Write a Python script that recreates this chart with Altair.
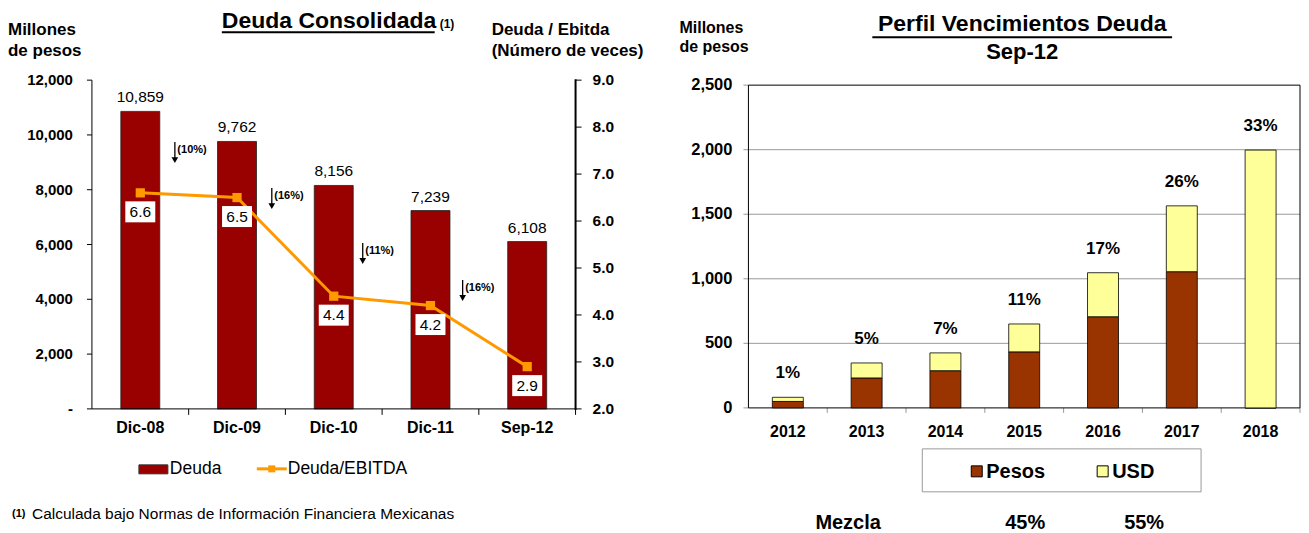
import altair as alt
import pandas as pd

# ---------------- data ----------------
periodos = ['Dic-08', 'Dic-09', 'Dic-10', 'Dic-11', 'Sep-12']
deuda = [10859, 9762, 8156, 7239, 6108]
deuda_ebitda = [6.6, 6.5, 4.4, 4.2, 2.9]
variaciones = ['(10%)', '(16%)', '(11%)', '(16%)']
deuda_ticks = [0, 2000, 4000, 6000, 8000, 10000, 12000]
veces_ticks = [2, 3, 4, 5, 6, 7, 8, 9]

anios = ['2012', '2013', '2014', '2015', '2016', '2017', '2018']
pesos = [50, 232, 288, 434, 706, 1055, 0]
usd = [32, 116, 138, 216, 341, 510, 1997]
porcentajes = ['1%', '5%', '7%', '11%', '17%', '26%', '33%']
venc_ticks = [0, 500, 1000, 1500, 2000, 2500]
mezcla = ['45%', '55%']

# ---------------- layout helpers ----------------
FONT = 'Liberation Sans'
W, H = 1293, 517
M = 8


def px(v):
    return v - M


one = pd.DataFrame({'k': [0]})


def txt(text, x, y, size, bold=True, align='left', color='black'):
    return alt.Chart(one).mark_text(
        text=text, align=align, baseline='middle', font=FONT, fontSize=size,
        fontWeight='bold' if bold else 'normal', color=color
    ).encode(x=alt.value(px(x)), y=alt.value(px(y)))


def rule(x1, y1, x2, y2, color='black', w=1.0):
    return alt.Chart(one).mark_rule(color=color, strokeWidth=w).encode(
        x=alt.value(px(x1)), y=alt.value(px(y1)),
        x2=alt.value(px(x2)), y2=alt.value(px(y2)))


def box(x1, y1, x2, y2, fill, stroke='black', w=1.0):
    return alt.Chart(one).mark_rect(fill=fill, stroke=stroke, strokeWidth=w).encode(
        x=alt.value(px(x1)), y=alt.value(px(y1)),
        x2=alt.value(px(x2)), y2=alt.value(px(y2)))


def sym(shape, x, y, size, color):
    return alt.Chart(one).mark_point(shape=shape, filled=True, size=size,
                                     color=color, opacity=1).encode(
        x=alt.value(px(x)), y=alt.value(px(y)))


def y_ticks(values, labels, scale, x_tick1, x_tick2, x_lab, align, size, tick_color):
    df = pd.DataFrame({'v': values, 'lab': labels})
    ticks = alt.Chart(df).mark_rule(color=tick_color, strokeWidth=1).encode(
        y=alt.Y('v:Q', scale=scale, axis=None),
        x=alt.value(px(x_tick1)), x2=alt.value(px(x_tick2)))
    labs = alt.Chart(df).mark_text(align=align, baseline='middle', font=FONT,
                                   fontSize=size, fontWeight='bold', color='black').encode(
        y=alt.Y('v:Q', scale=scale, axis=None), x=alt.value(px(x_lab)), text='lab:N')
    return [ticks, labs]


def x_ticks(cats, field, scale, y_axis, tick_len, y_lab, size, tick_color):
    df = pd.DataFrame({field: cats})
    ticks = alt.Chart(df).mark_rule(color=tick_color, strokeWidth=1).encode(
        x=alt.X(f'{field}:N', scale=scale, axis=None, bandPosition=1),
        y=alt.value(px(y_axis)), y2=alt.value(px(y_axis + tick_len)))
    labs = alt.Chart(df).mark_text(align='center', baseline='middle', font=FONT,
                                   fontSize=size, fontWeight='bold', color='black').encode(
        x=alt.X(f'{field}:N', scale=scale, axis=None), y=alt.value(px(y_lab)),
        text=f'{field}:N')
    return [ticks, labs]


# ---------------- left chart ----------------
left_df = pd.DataFrame({'periodo': periodos, 'deuda': deuda, 'veces': deuda_ebitda})
xL = alt.Scale(domain=periodos, range=[px(92), px(576)], paddingInner=0, paddingOuter=0)
yD = alt.Scale(domain=[0, 12000], range=[px(409), px(80)], nice=False)
yV = alt.Scale(domain=[2, 9], range=[px(409), px(80)], nice=False, zero=False)

baseL = alt.Chart(left_df)
xLenc = alt.X('periodo:N', scale=xL, axis=None)

bars_L = baseL.mark_bar(size=39, color='#990000', stroke='#222222', strokeWidth=0.8).encode(
    x=xLenc, y=alt.Y('deuda:Q', scale=yD, axis=None))
bar_lbl = baseL.mark_text(dy=-14, font=FONT, fontSize=15.5, color='black',
                          baseline='middle').encode(
    x=xLenc, y=alt.Y('deuda:Q', scale=yD, axis=None),
    text=alt.Text('deuda:Q', format=','))
deuda_axis = y_ticks(deuda_ticks, ['-' if v == 0 else f'{v:,}' for v in deuda_ticks],
                     yD, 87, 92, 73, 'right', 15, 'black')

line = baseL.mark_line(color='#FF9900', strokeWidth=3).encode(
    x=xLenc, y=alt.Y('veces:Q', scale=yV, axis=None))
pts = baseL.mark_point(shape='square', filled=True, size=85, color='#FF9900',
                       opacity=1).encode(
    x=xLenc, y=alt.Y('veces:Q', scale=yV, axis=None))
lbl_boxes = baseL.mark_point(shape='M-1,-0.7L1,-0.7L1,0.7L-1,0.7Z', filled=True,
                             size=900, color='white', opacity=1, yOffset=19).encode(
    x=xLenc, y=alt.Y('veces:Q', scale=yV, axis=None))
v_lbl = baseL.mark_text(dy=19, font=FONT, fontSize=15.5, color='black',
                        baseline='middle').encode(
    x=xLenc, y=alt.Y('veces:Q', scale=yV, axis=None),
    text=alt.Text('veces:Q', format='.1f'))
veces_axis = y_ticks(veces_ticks, [f'{v:.1f}' for v in veces_ticks],
                     yV, 576, 582, 593, 'left', 15.5, 'black')

xL_axis = x_ticks(periodos, 'periodo', xL, 409, 6, 428.5, 16, 'black')

left_chart = alt.layer(
    alt.layer(bars_L, bar_lbl, *deuda_axis, *xL_axis),
    alt.layer(line, pts, lbl_boxes, v_lbl, *veces_axis)
).resolve_scale(y='independent')

left_lines = [rule(92, 80, 92, 409), rule(92, 409, 576, 409),
              rule(576, 79, 576, 410, w=2)]

# ---------------- right chart ----------------
right_df = pd.DataFrame({
    'anio': anios * 2,
    'tipo': ['Pesos'] * len(anios) + ['USD'] * len(anios),
    'valor': pesos + usd,
    'orden': [0] * len(anios) + [1] * len(anios)})
tot_df = pd.DataFrame({'anio': anios,
                       'total': [p + u for p, u in zip(pesos, usd)],
                       'pct': porcentajes})
grid_df = pd.DataFrame({'v': venc_ticks[1:-1]})

xR = alt.Scale(domain=anios, range=[px(749), px(1301)], paddingInner=0, paddingOuter=0)
yR = alt.Scale(domain=[0, 2500], range=[px(408), px(85)], nice=False)

grid = alt.Chart(grid_df).mark_rule(color='#999999', strokeWidth=1).encode(
    y=alt.Y('v:Q', scale=yR, axis=None),
    x=alt.value(px(749)), x2=alt.value(px(1301)))
frame = box(749, 85, 1301, 408, fill='transparent', stroke='black', w=1)
bars_R = alt.Chart(right_df).mark_bar(size=31, stroke='black', strokeWidth=0.8).encode(
    x=alt.X('anio:N', scale=xR, axis=None),
    y=alt.Y('valor:Q', scale=yR, axis=None, stack='zero'),
    color=alt.Color('tipo:N', scale=alt.Scale(domain=['Pesos', 'USD'],
                                              range=['#993300', '#FFFF99']),
                    legend=None),
    order=alt.Order('orden:Q', sort='ascending'))
pct_lbl = alt.Chart(tot_df).mark_text(dy=-24, font=FONT, fontSize=17, fontWeight='bold',
                                      baseline='middle', color='black').encode(
    x=alt.X('anio:N', scale=xR, axis=None),
    y=alt.Y('total:Q', scale=yR, axis=None),
    text='pct:N')
venc_axis = y_ticks(venc_ticks, [f'{v:,}' for v in venc_ticks],
                    yR, 744, 749, 733, 'right', 16.5, '#999999')
xR_axis = x_ticks(anios, 'anio', xR, 408, 5, 432, 16, '#999999')

right_chart = alt.layer(grid, *venc_axis, *xR_axis, frame, bars_R, pct_lbl)

# ---------------- annotations ----------------
ann = list(left_lines)
# left titles
ann += [txt('Deuda Consolidada', 222, 21, 23), rule(222, 32, 435, 32, w=2),
        txt('(1)', 440, 24, 12),
        txt('Millones', 8, 30, 17), txt('de pesos', 8, 51, 17),
        txt('Deuda / Ebitda', 492, 30, 17), txt('(Número de veces)', 492, 51, 17)]
# change arrows
arrow_x = [175, 272, 363, 463]
arrow_top = [142, 188, 243, 280]
arrow_len = 21
for i, lab in enumerate(variaciones):
    ax, at = arrow_x[i], arrow_top[i]
    ann += [rule(ax, at, ax, at + arrow_len - 5, w=1.3),
            sym('triangle-down', ax, at + arrow_len - 3, 45, 'black'),
            txt(lab, ax + 2.5, at + 8, 11)]
# left legend
ann += [box(139, 465, 168, 474, fill='#990000', stroke='#333333'),
        txt('Deuda', 170, 469, 17.5, bold=False),
        rule(257, 469, 287, 469, color='#FF9900', w=3),
        sym('square', 272, 469, 49, '#FF9900'),
        txt('Deuda/EBITDA', 288, 469, 17.5, bold=False)]
# footnote
ann += [txt('(1)', 12, 514, 11),
        txt('Calculada bajo Normas de Información Financiera Mexicanas', 32, 514, 15.5,
            bold=False)]
# right titles
ann += [txt('Millones', 680, 28, 16), txt('de pesos', 680, 47, 16),
        txt('Perfil Vencimientos Deuda', 1023, 24, 23, align='center'),
        rule(873, 37, 1173, 37, w=2),
        txt('Sep-12', 1023, 52, 22, align='center')]
# right legend
ann += [box(923, 449, 1202, 492, fill='white', stroke='#999999'),
        box(972, 466, 983, 477, fill='#993300'),
        txt('Pesos', 987, 472, 20),
        box(1098, 466, 1109, 477, fill='#FFFF99'),
        txt('USD', 1113, 472, 20)]
# mix row
ann += [txt('Mezcla', 816, 523, 20), txt(mezcla[0], 1006, 523, 20),
        txt(mezcla[1], 1125, 523, 20)]

chart = alt.layer(left_chart, right_chart, *ann).resolve_scale(
    x='independent', y='independent'
).properties(width=W, height=H, padding=0).configure_view(strokeWidth=0)

chart.save("out.html", embed_options={"renderer": "svg", "actions": False})
